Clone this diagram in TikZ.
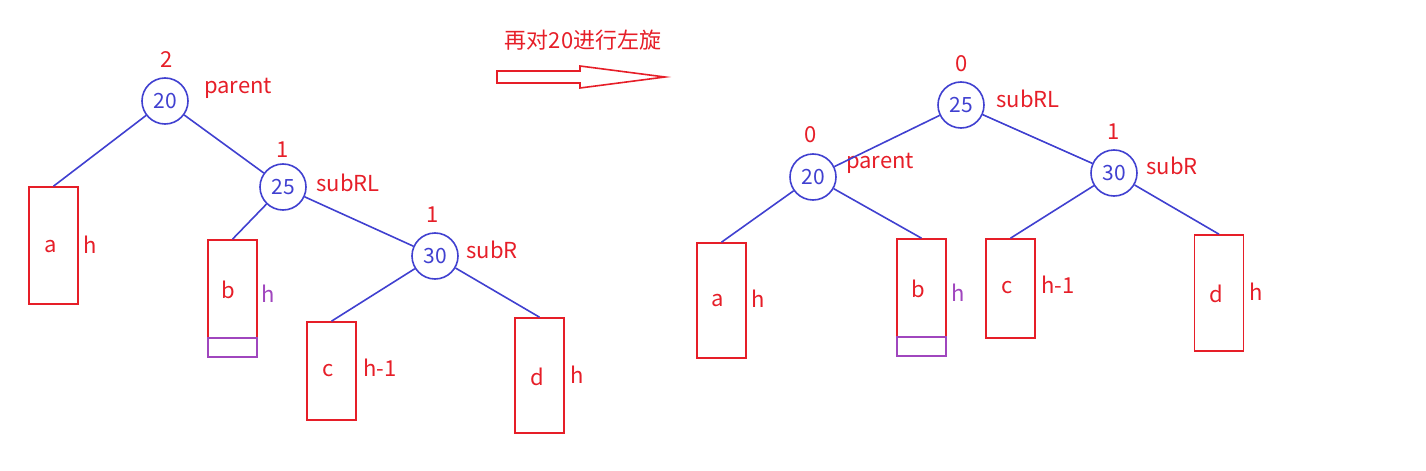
\documentclass[tikz,border=0pt]{standalone}
\usepackage{fontspec}
\setmainfont{Noto Sans CJK SC}
\usetikzlibrary{positioning}
\definecolor{tblue}{RGB}{64,64,208}
\definecolor{tred}{RGB}{230,30,40}
\definecolor{tpurple}{RGB}{160,70,190}
\begin{document}
\begin{tikzpicture}
%defines
  [x=0.5pt,y=-0.5pt,
key/.style={circle,draw=tblue,thick,text=tblue,inner sep=0pt,minimum size=23pt,font=\fontsize{10.5}{12}\selectfont},
box/.style={rectangle,draw=tred,thick,inner sep=0pt,minimum width=24.5pt},
extra/.style={rectangle,draw=tpurple,thick,inner sep=0pt,minimum width=24.5pt,minimum height=9.5pt},
lab/.style={text=tred,inner sep=0pt,font=\fontsize{11}{13}\selectfont},
link/.style={draw=tblue,thick}]
\useasboundingbox (0,0) rectangle (1426,471);
%left tree
\node[key] (l20) at (165,101) {20};
\node[key] (l25) at (283,187) {25};
\node[key] (l30) at (435,256) {30};
\node[box,minimum height=58.5pt] (la) at (53.5,245.5) {};
\node[box,minimum height=49pt] (lb) at (232.5,289) {};
\node[extra] (lbx) at (232.5,347.5) {};
\node[box,minimum height=49pt] (lc) at (331.5,371) {};
\node[box,minimum height=57.5pt] (ld) at (539.5,375.5) {};
\node[lab] at (167,60) {2};
\node[lab] at (238,88) {parent};
\node[lab] at (348,183) {subRL};
\node[lab] at (283,150) {1};
\node[lab] at (433,215) {1};
\node[lab] at (492,250) {subR};
\node[lab] at (51,247) {a};
\node[lab] at (90,245) {h};
\node[lab] at (228,290) {b};
\node[lab,text=tpurple] at (268,294) {h};
\node[lab] at (328,371) {c};
\node[lab] at (380,368) {h-1};
\node[lab] at (537,377) {d};
\node[lab] at (577,375) {h};
\draw[link] (l20) -- (la.north);
\draw[link] (l20) -- (l25);
\draw[link] (l25) -- (lb.north);
\draw[link] (l25) -- (l30);
\draw[link] (l30) -- (lc.north);
\draw[link] (l30) -- (ld.north);
%arrow
\node[lab] (title) at (583,40) {再对20进行左旋};
\draw[tred,thick] (497,71) -- (580,71) -- (580,66) -- (665,77) -- (580,88) -- (580,83) -- (497,83) -- cycle;
%right tree
\node[key] (r25) at (961,105) {25};
\node[key] (r20) at (813,177) {20};
\node[key] (r30) at (1114,173) {30};
\node[box,minimum height=57.5pt] (ra) at (721.5,300.5) {};
\node[box,minimum height=49pt] (rb) at (921.5,288) {};
\node[extra] (rbx) at (921.5,346.5) {};
\node[box,minimum height=49.5pt] (rc) at (1010.5,288.5) {};
\node[box,minimum height=58pt] (rd) at (1219,293) {};
\node[lab] at (962,64) {0};
\node[lab] at (1028,99) {subRL};
\node[lab] at (811,135) {0};
\node[lab] at (880,163) {parent};
\node[lab] at (1114,132) {1};
\node[lab] at (1172,166) {subR};
\node[lab] at (718,301) {a};
\node[lab] at (758,299) {h};
\node[lab] at (918,289) {b};
\node[lab,text=tpurple] at (958,293) {h};
\node[lab] at (1007,288) {c};
\node[lab] at (1058,285) {h-1};
\node[lab] at (1216,294) {d};
\node[lab] at (1256,292) {h};
\draw[link] (r25) -- (r20);
\draw[link] (r25) -- (r30);
\draw[link] (r20) -- (ra.north);
\draw[link] (r20) -- (rb.north);
\draw[link] (r30) -- (rc.north);
\draw[link] (r30) -- (rd.north);
\end{tikzpicture}
\end{document}
